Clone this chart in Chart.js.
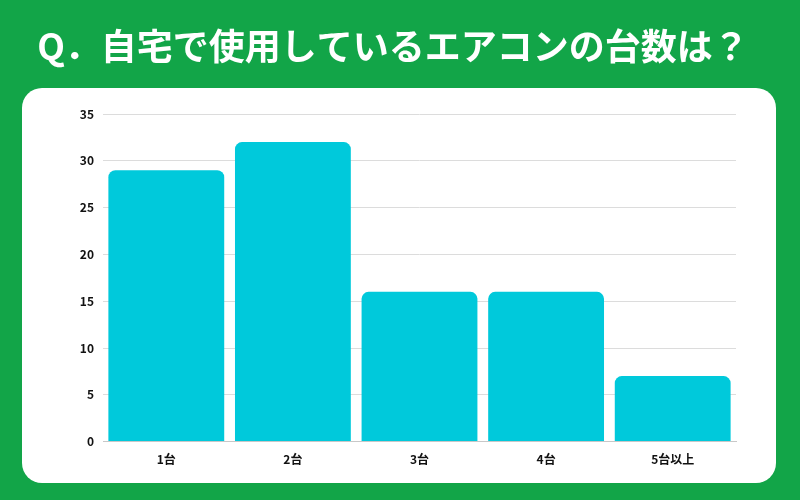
<!DOCTYPE html>
<html>
<head>
<meta charset="utf-8">
<script src="https://cdn.jsdelivr.net/npm/chart.js@4"></script>
<style>
  html, body { margin: 0; padding: 0; background: #12a548; }
  #wrap { width: 800px; height: 500px; }
</style>
</head>
<body>
<div id="wrap"><canvas id="acChart" width="800" height="500"></canvas></div>
<script>
"use strict";

// Data
var categories = ['1台', '2台', '3台', '4台', '5台以上'];
var units = [29, 32, 16, 16, 7];
var yTicks = [0, 5, 10, 15, 20, 25, 30, 35];

var titleText = 'Q．自宅で使用しているエアコンの台数は？';

// Green backdrop with a white rounded panel behind the chart, title on top
var panelPlugin = {
    id: 'panel',
    beforeDraw: function (chart) {
        var ctx = chart.ctx;
        ctx.save();
        ctx.fillStyle = '#12a548';
        ctx.fillRect(0, 0, chart.width, chart.height);
        var x = 22, y = 88, w = 754, h = 395, r = 20;
        ctx.fillStyle = '#ffffff';
        ctx.beginPath();
        ctx.moveTo(x + r, y);
        ctx.arcTo(x + w, y, x + w, y + h, r);
        ctx.arcTo(x + w, y + h, x, y + h, r);
        ctx.arcTo(x, y + h, x, y, r);
        ctx.arcTo(x, y, x + w, y, r);
        ctx.closePath();
        ctx.fill();

        // title text (Chart.js title squeezes it to the padded box width)
        ctx.fillStyle = '#ffffff';
        ctx.font = 'bold 36px "Noto Sans CJK JP", "Noto Sans", sans-serif';
        ctx.textAlign = 'center';
        ctx.textBaseline = 'middle';
        ctx.fillText(titleText, 393, 46);
        ctx.restore();
    }
};

var ctx = document.getElementById('acChart').getContext('2d');
var chart = new Chart(ctx, {
    type: 'bar',
    data: {
        labels: categories,
        datasets: [{
            data: units,
            backgroundColor: '#00c9db',
            borderRadius: { topLeft: 7, topRight: 7, bottomLeft: 0, bottomRight: 0 },
            borderSkipped: 'bottom',
            categoryPercentage: 1.0,
            barPercentage: 0.915
        }]
    },
    options: {
        responsive: false,
        animation: false,
        layout: { padding: { left: 40, right: 64, top: 114, bottom: 30 } },
        plugins: {
            legend: { display: false },
            tooltip: { enabled: false },
            title: { display: false }
        },
        scales: {
            x: {
                grid: { display: false },
                border: { display: true, color: '#c8c8c8' },
                ticks: {
                    color: '#111111',
                    padding: 3,
                    font: { family: '"Noto Sans CJK JP", sans-serif', size: 12, weight: 'bold' }
                }
            },
            y: {
                min: 0,
                max: 35,
                afterBuildTicks: function (scale) {
                    scale.ticks = yTicks.map(function (v) { return { value: v }; });
                },
                grid: { color: '#dcdcdc', drawTicks: false },
                border: { display: false },
                ticks: {
                    color: '#111111',
                    padding: 9,
                    font: { family: '"Noto Sans CJK JP", sans-serif', size: 12, weight: 'bold' }
                },
                afterFit: function (scale) { scale.width = 63; }
            }
        }
    },
    plugins: [panelPlugin]
});
</script>
</body>
</html>
